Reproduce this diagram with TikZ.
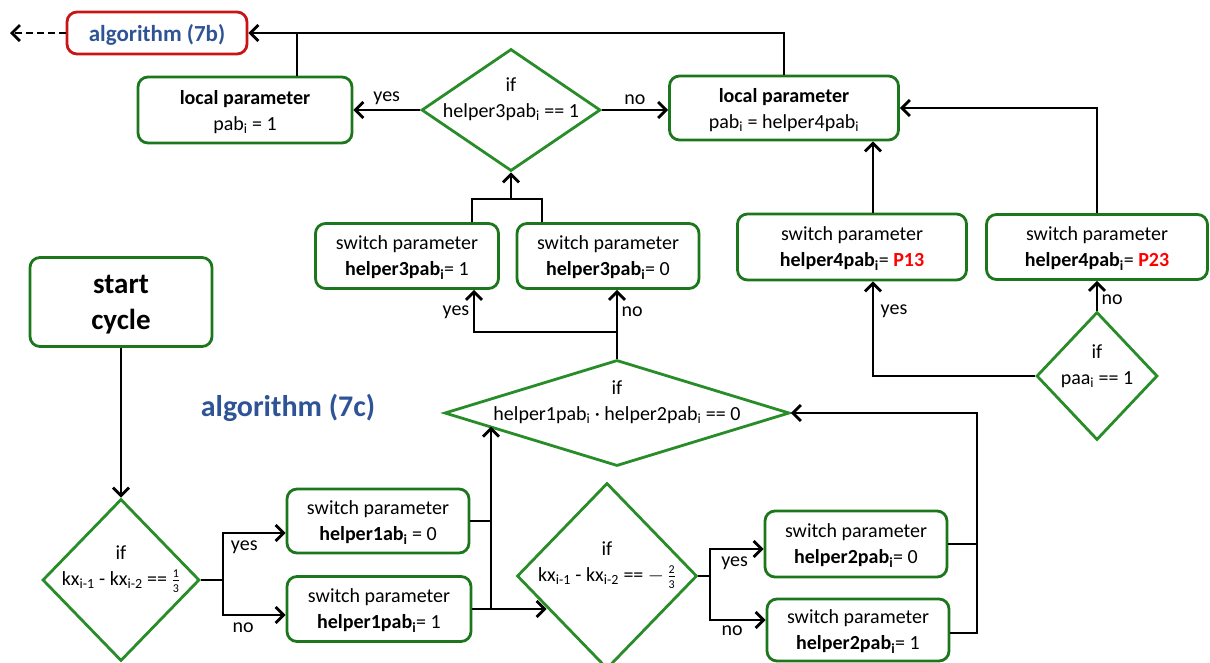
\documentclass[tikz,border=0pt]{standalone}
\usepackage{fontspec}
\setmainfont{Carlito}
\usepackage{amsmath}
\usetikzlibrary{arrows.meta,shapes.geometric}
\definecolor{boxgreen}{RGB}{28,118,28}
\definecolor{diagreen}{RGB}{40,140,40}
\definecolor{algblue}{RGB}{46,84,150}
\definecolor{algred}{RGB}{200,20,20}
\newcommand{\ix}{\textsubscript{i}}
\newcommand{\minifrac}[2]{$\genfrac{}{}{0.4pt}{}{\text{\fontsize{12}{12}\selectfont#1}}{\text{\fontsize{12}{12}\selectfont#2}}$}

\begin{document}
\begin{tikzpicture}[x=1pt,y=-1pt,
    font=\fontsize{20}{26}\selectfont,
    param/.style={draw=boxgreen, line width=2.8pt, rounded corners=10pt, align=center, inner sep=0pt, text depth=0pt},
    cond/.style={draw=diagreen, line width=2.8pt, diamond, inner sep=0pt},
    flow/.style={line width=2.8pt, -{Straight Barb[length=8pt,width=16pt]}},
    link/.style={line width=2.8pt}]
    \useasboundingbox (0,0) rectangle (1210,662);

    % top row
    \node[param, draw=algred, minimum width=180pt, minimum height=42pt,
          font=\fontsize{23}{28}\selectfont\bfseries, text=algblue] (alg7b) at (157,33) {algorithm (7b)};
    \coordinate (exit) at (10,33);
    \node[param, minimum width=214pt, minimum height=66pt] (loc1) at (245,110) {\textbf{local parameter}\\pab\ix{} = 1};
    \node[cond, minimum width=179pt, minimum height=122pt] (if3) at (511,110) {};
    \node[align=center] (if3t) at ([yshift=11pt]if3.center) {if\\helper3pab\ix{} == 1};
    \node[param, minimum width=229pt, minimum height=64pt] (loc2) at (784,108) {\textbf{local parameter}\\pab\ix{} = helper4pab\ix};

    % switch parameters
    \node[param, minimum width=183pt, minimum height=65pt] (s3a) at (407,256) {switch parameter\\\textbf{helper3pab\ix}= 1};
    \node[param, minimum width=182pt, minimum height=65pt] (s3b) at (608,256) {switch parameter\\\textbf{helper3pab\ix}= 0};
    \node[param, minimum width=229pt, minimum height=66pt] (s4a) at (852,247) {switch parameter\\\textbf{helper4pab\ix}= \textcolor{red}{\textbf{P13}}};
    \node[param, minimum width=221pt, minimum height=65pt] (s4b) at (1097,247) {switch parameter\\\textbf{helper4pab\ix}= \textcolor{red}{\textbf{P23}}};
    \node[cond, minimum width=121pt, minimum height=128pt] (ifpaa) at (1097,376) {};
    \node[align=center] (ifpaat) at ([yshift=10pt]ifpaa.center) {if\\paa\ix{} == 1};

    % start and lower part
    \node[param, minimum width=182pt, minimum height=89pt, font=\fontsize{29}{36}\selectfont\bfseries] (start) at (121,302) {start\\cycle};
    \node[font=\fontsize{30}{36}\selectfont\bfseries, text=algblue] (alg7c) at (288,408) {algorithm (7c)};
    \node[cond, minimum width=345pt, minimum height=106pt] (ifmid) at (617,413) {};
    \node[align=center] (ifmidt) at ([yshift=11pt]ifmid.center) {if\\helper1pab\ix{} \textperiodcentered{} helper2pab\ix{} == 0};
    \node[cond, minimum width=157pt, minimum height=162pt] (if1) at (121,580) {};
    \node[align=center] (if1t) at ([yshift=11pt]if1.center) {if\\kx\textsubscript{i-1} - kx\textsubscript{i-2} == \minifrac{1}{3}};
    \node[param, minimum width=182pt, minimum height=64pt] (s1a) at (378,521) {switch parameter\\\textbf{helper1ab\ix} = 0};
    \node[param, minimum width=184pt, minimum height=65pt] (s1b) at (379,609) {switch parameter\\\textbf{helper1pab\ix}= 1};
    \node[cond, minimum width=180pt, minimum height=186pt] (if2) at (607,576) {};
    \node[align=center] (if2t) at ([yshift=11pt]if2.center) {if\\kx\textsubscript{i-1} - kx\textsubscript{i-2} == $-$\,\minifrac{2}{3}};
    \node[param, minimum width=182pt, minimum height=66pt] (s2a) at (856,544) {switch parameter\\\textbf{helper2pab\ix}= 0};
    \node[param, minimum width=182pt, minimum height=62pt] (s2b) at (858,630) {switch parameter\\\textbf{helper2pab\ix}= 1};

    % connectors, top
    \draw[flow, dash pattern=on 7pt off 4pt] (alg7b.west) -- (exit);
    \draw[flow] (loc2.north) |- (alg7b.east);
    \draw[link] ([xshift=52pt]loc1.north) -- ([xshift=52pt]loc1.north |- alg7b.east);
    \draw[flow] (if3.west) -- node[above=1pt] (yes3) {yes} (loc1.east);
    \draw[flow] (if3.east) -- node[above=1pt] (no3) {no} (if3.east -| loc2.west);

    % helper3 into if3
    \coordinate (j3) at (511,199);
    \draw[link] ([xshift=65pt]s3a.north) |- (j3) -| ([xshift=-66pt]s3b.north);
    \draw[flow] (j3) -- (if3.south);
    \coordinate (j4) at (617,332);
    \draw[flow] (ifmid.north) -- (ifmid.north |- s3b.south) node[pos=0.68, right] (no4) {no};
    \draw[flow] (j4) -| ([xshift=67pt]s3a.south) node[pos=0.74, left] (yes4) {yes};

    % helper4 side
    \draw[flow] (ifpaa.north) -- (ifpaa.north |- s4b.south) node[pos=0.35, right] (no5) {no};
    \draw[flow] (ifpaa.west) -| ([xshift=21pt]s4a.south) node[pos=0.84, right=3pt] (yes5) {yes};
    \draw[flow] ([xshift=21pt]s4a.north) -- ([xshift=21pt]s4a.north |- loc2.south);
    \draw[flow] (s4b.north) |- (loc2.east);

    % lower left
    \draw[flow] (start.south) -- (if1.north);
    \coordinate (j5) at (223,580);
    \draw[link] (if1.east) -- (j5);
    \draw[flow] (j5) |- ([yshift=-12pt]s1a.west) node[pos=0.67, below=3pt] (yes1) {yes};
    \draw[flow] (j5) |- ([yshift=-6pt]s1b.west) node[pos=0.66, below=3pt] (no1) {no};
    \coordinate (j1) at (491,609);
    \draw[link] (s1a.east) -- (s1a.east -| j1);
    \draw[flow] (s1b.east) -- (s1b.east -| if2.208);
    \draw[flow] (j1) -- (j1 |- ifmid.186);

    % lower right
    \coordinate (j6) at (710,576);
    \draw[link] (if2.east) -- (j6);
    \draw[flow] (j6) |- ([yshift=-5pt]s2a.west) node[pos=0.73, below=3pt] (yes2) {yes};
    \draw[flow] (j6) |- ([yshift=10pt]s2b.west) node[pos=0.7, below=1pt] (no2) {no};
    \coordinate (j2) at (977,413);
    \draw[link] (s2a.east) -- (s2a.east -| j2);
    \draw[flow] ([yshift=-3pt]s2b.east) -| (j2) -- (ifmid.east);
\end{tikzpicture}
\end{document}
